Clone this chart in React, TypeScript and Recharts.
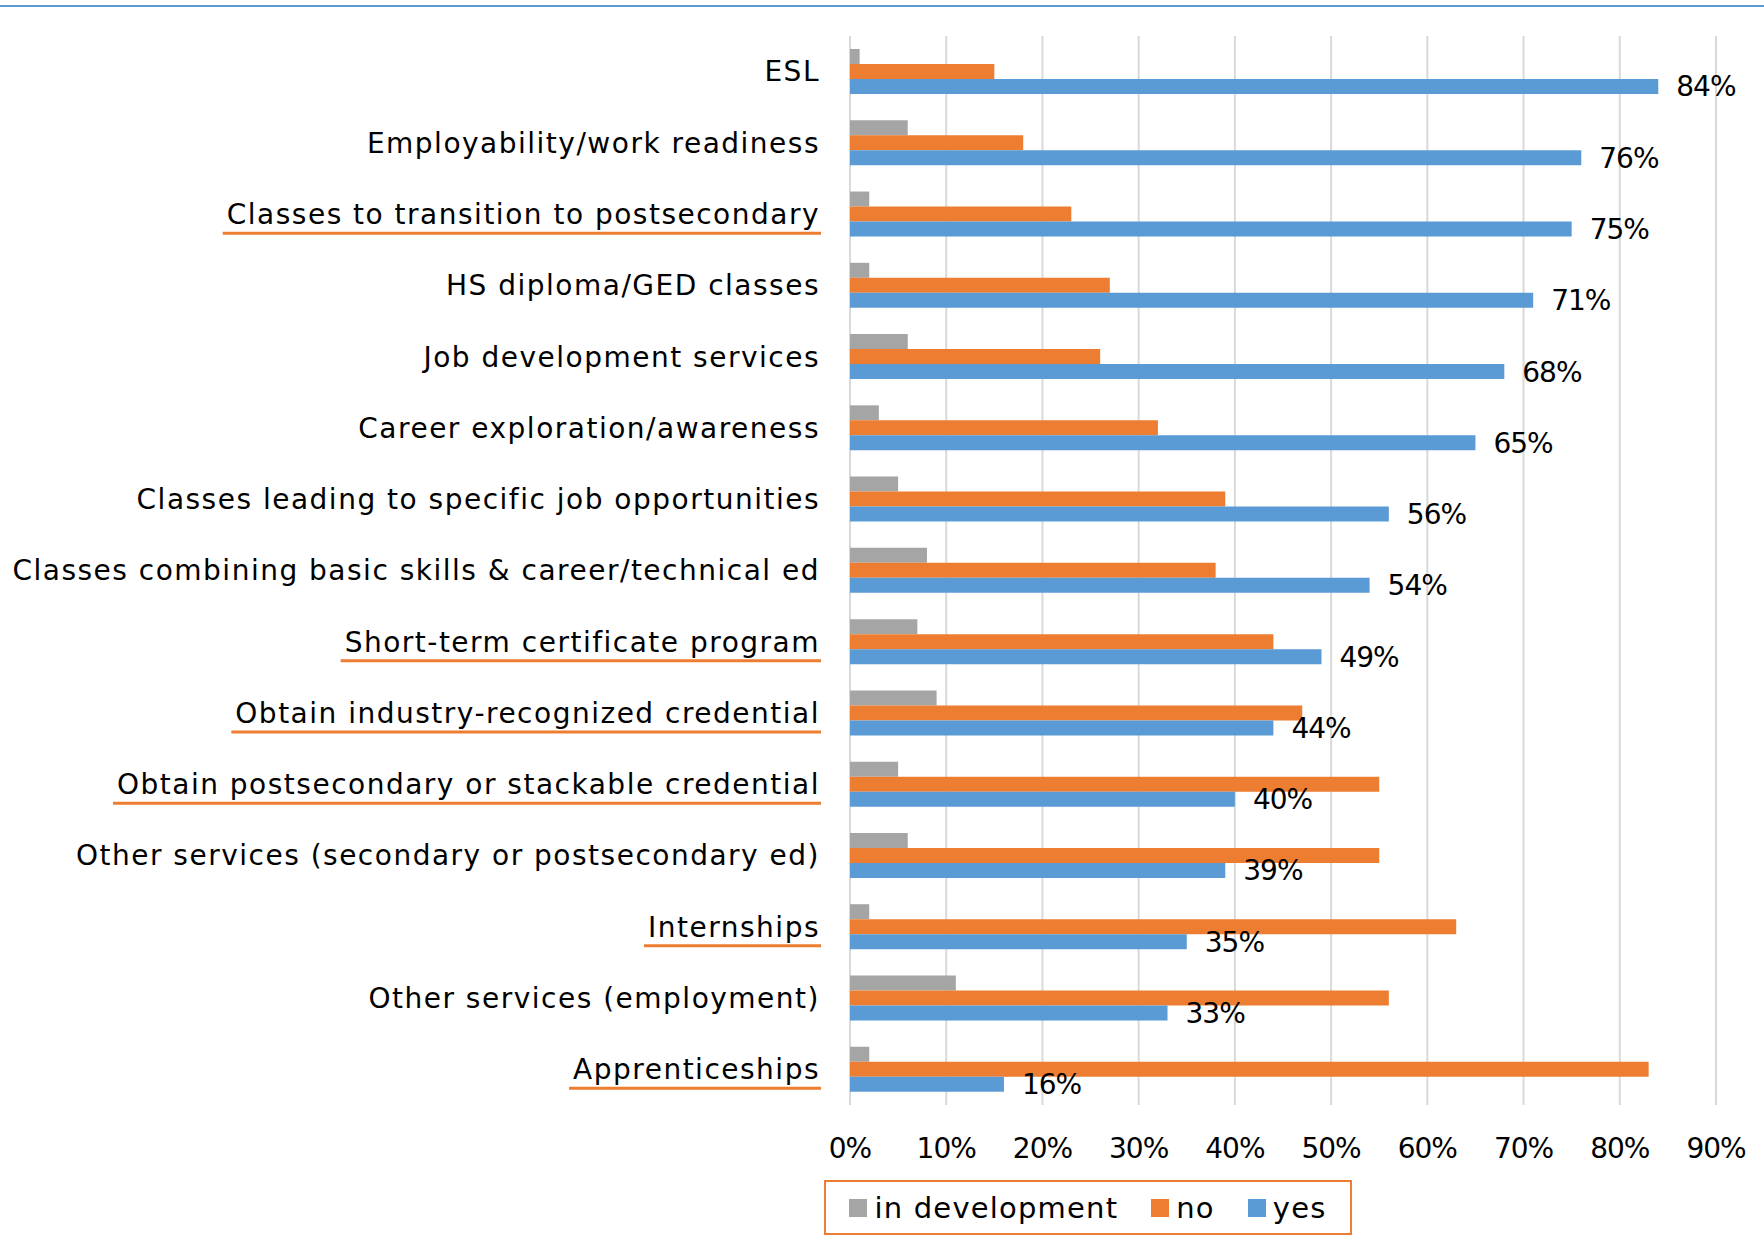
import { BarChart, Bar, XAxis, YAxis, CartesianGrid, LabelList } from "recharts";

// categories, top to bottom
const categories = [
  "ESL",
  "Employability/work readiness",
  "Classes to transition to postsecondary",
  "HS diploma/GED classes",
  "Job development services",
  "Career exploration/awareness",
  "Classes leading to specific job opportunities",
  "Classes combining basic skills & career/technical ed",
  "Short-term certificate program",
  "Obtain industry-recognized credential",
  "Obtain postsecondary or stackable credential",
  "Other services (secondary or postsecondary ed)",
  "Internships",
  "Other services (employment)",
  "Apprenticeships",
];

const inDevelopment = [1, 6, 2, 2, 6, 3, 5, 8, 7, 9, 5, 6, 2, 11, 2];
const no = [15, 18, 23, 27, 26, 32, 39, 38, 44, 47, 55, 55, 63, 56, 83];
const yes = [84, 76, 75, 71, 68, 65, 56, 54, 49, 44, 40, 39, 35, 33, 16];

const underlined = [
  "Classes to transition to postsecondary",
  "Short-term certificate program",
  "Obtain industry-recognized credential",
  "Obtain postsecondary or stackable credential",
  "Internships",
  "Apprenticeships",
];

const xTicks = [0, 10, 20, 30, 40, 50, 60, 70, 80, 90];

const series = [
  { key: "dev", label: "in development", color: "#A5A5A5" },
  { key: "no", label: "no", color: "#ED7D31" },
  { key: "yes", label: "yes", color: "#5B9BD5" },
];

const data = categories.map((name, i) => ({
  name,
  dev: inDevelopment[i],
  no: no[i],
  yes: yes[i],
}));

const FONT = "'DejaVu Sans', sans-serif";
const LABEL_SIZE = 28;
const LABEL_SPACING = 1.5;
const NUM_SIZE = 28;
const NUM_SPACING = -1;

let measureCtx: CanvasRenderingContext2D | null = null;
function textWidth(s: string, size: number, spacing: number) {
  if (!measureCtx) measureCtx = document.createElement("canvas").getContext("2d");
  if (!measureCtx) return s.length * (size * 0.55 + spacing);
  measureCtx.font = `${size}px ${FONT}`;
  return measureCtx.measureText(s).width + s.length * spacing;
}

function CategoryTick(props: any) {
  const { x, y, payload } = props;
  const label = payload.value as string;
  const w = textWidth(label, LABEL_SIZE, LABEL_SPACING);
  return (
    <g>
      <text
        x={x}
        y={y}
        dy="0.35em"
        textAnchor="end"
        fill="#000"
        fontSize={LABEL_SIZE}
        fontFamily={FONT}
        style={{ letterSpacing: LABEL_SPACING }}
      >
        {label}
      </text>
      {underlined.includes(label) && (
        <line x1={x - w - 4} x2={x + 1} y1={y + 19} y2={y + 19} stroke="#ED7D31" strokeWidth={3} />
      )}
    </g>
  );
}

export default function App() {
  return (
    <div style={{ position: "absolute", left: 0, top: 0, width: 1764, height: 1244, background: "#fff", fontFamily: FONT }}>
      <div style={{ position: "absolute", left: 0, top: 5, width: 1764, height: 2, background: "#5B9BD5" }} />
      <BarChart
        width={1764}
        height={1244}
        data={data}
        layout="vertical"
        margin={{ top: 36, right: 48, bottom: 99, left: 0 }}
        barSize={15}
        barGap={0}
      >
        <CartesianGrid horizontal={false} stroke="#D9D9D9" strokeWidth={2} />
        <XAxis
          type="number"
          domain={[0, 90]}
          ticks={xTicks}
          tickFormatter={(v) => `${v}%`}
          axisLine={false}
          tickLine={false}
          tickSize={0}
          tickMargin={33}
          height={40}
          interval={0}
          tick={{ fill: "#000", fontSize: NUM_SIZE, fontFamily: FONT, style: { letterSpacing: NUM_SPACING } }}
        />
        <YAxis
          type="category"
          dataKey="name"
          width={850}
          axisLine={false}
          tickLine={false}
          tickSize={0}
          tickMargin={30}
          interval={0}
          tick={<CategoryTick />}
        />
        {series.map((s) => (
          <Bar key={s.key} dataKey={s.key} name={s.label} fill={s.color} isAnimationActive={false}>
            {s.key === "yes" && (
              <LabelList
                dataKey="yes"
                position="right"
                offset={18}
                formatter={(v: any) => `${v}%`}
                fill="#000"
                fontSize={NUM_SIZE}
                fontFamily={FONT}
                style={{ letterSpacing: NUM_SPACING }}
              />
            )}
          </Bar>
        ))}
      </BarChart>
      <div
        style={{
          position: "absolute",
          left: 824,
          top: 1180,
          width: 528,
          height: 55,
          boxSizing: "border-box",
          border: "2px solid #ED7D31",
          display: "flex",
          alignItems: "center",
          justifyContent: "center",
          fontSize: 29,
          letterSpacing: 1.2,
          color: "#000",
        }}
      >
        {series.map((s, i) => (
          <div key={s.key} style={{ display: "flex", alignItems: "center", marginLeft: i === 0 ? 0 : 33 }}>
            <span style={{ display: "inline-block", width: 18, height: 18, background: s.color, marginRight: 7 }} />
            <span>{s.label}</span>
          </div>
        ))}
      </div>
    </div>
  );
}
